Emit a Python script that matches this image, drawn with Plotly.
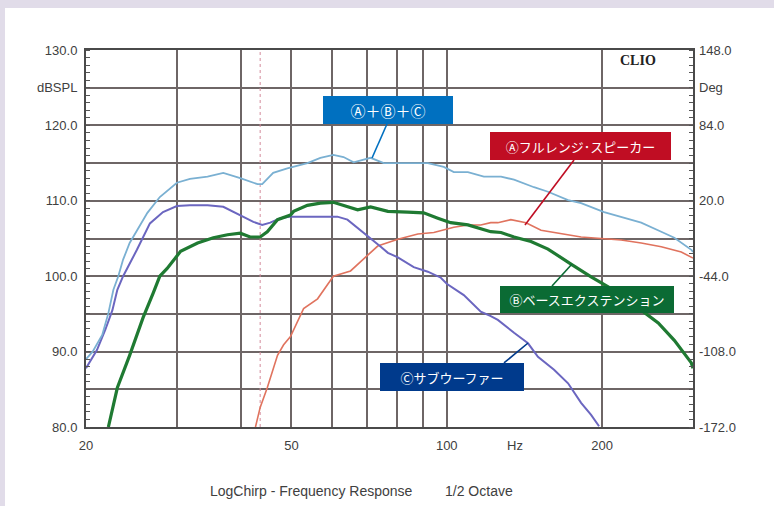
import numpy as np
import plotly.graph_objects as go

# %% data (frequency in Hz, level in dBSPL)
freq_abc = [20, 20.6, 21.5, 22.1, 22.6, 23.1, 23.6, 24.3, 26.3, 27.8, 30.0, 31.8, 34.4, 36.9, 39.8,
            43.0, 43.9, 46.1, 49.1, 53.7, 56.9, 60.3, 63.1, 66.0, 71.2, 75.5, 84.0, 91.9, 98.7,
            103.2, 109.9, 118, 127.4, 135, 147.6, 157.1, 171.8, 182.1, 201.8, 217.7, 238.1, 260.4,
            276, 297.8, 300]
db_abc = [89.0, 90.0, 92.2, 95.1, 98.2, 100.0, 102.2, 104.4, 108.4, 110.5, 112.4, 112.9, 113.2, 113.7,
          113.0, 112.2, 112.2, 113.7, 114.3, 115.0, 115.7, 116.1, 115.8, 115.1, 115.7, 115.0, 115.0,
          115.0, 114.5, 113.8, 113.8, 113.2, 113.2, 112.8, 111.8, 111.2, 110.1, 109.7, 108.5, 107.9,
          107.1, 105.9, 105.1, 103.5, 103.2]

freq_a = [42.6, 43.5, 44.9, 47.0, 48.3, 49.8, 52.8, 56.2, 60.3, 65.1, 70.3, 73.5, 80.4, 87.9, 94.4,
          103.2, 109.9, 116.4, 121.7, 125.6, 133.1, 142.4, 152.3, 166.5, 182.1, 199.1, 217.7, 238.1,
          260.4, 284.7, 297.8, 300]
db_a = [80.0, 82.6, 85.2, 89.5, 90.9, 92.0, 95.7, 97.0, 100.0, 100.7, 102.8, 104.0, 104.9, 105.6, 105.8,
        106.5, 106.8, 106.8, 107.1, 107.1, 107.5, 107.1, 106.1, 105.7, 105.2, 105.0, 104.8, 104.4,
        103.9, 103.2, 102.6, 102.4]

freq_b = [22.1, 23.0, 24.3, 25.8, 27.0, 27.8, 28.7, 30.5, 32.9, 35.3, 37.6, 39.8, 41.6, 43.5, 44.9, 47.0,
          49.8, 50.5, 53.7, 56.9, 60.3, 64.2, 67.2, 71.2, 76.9, 84.0, 90.2, 96.1, 101.8, 109.9,
          116.4, 121.7, 127.4, 135, 145.6, 157.1, 174.1, 190.4, 205.5, 220.7, 238.1, 256.9, 276,
          297.8, 300]
db_b = [80.0, 85.2, 89.5, 94.5, 97.8, 100.0, 101.0, 103.3, 104.4, 105.1, 105.5, 105.7, 105.2, 105.2, 105.9,
        107.5, 108.1, 108.6, 109.4, 109.7, 109.8, 109.2, 108.8, 109.2, 108.6, 108.5, 108.4, 107.7,
        107.1, 106.8, 106.3, 105.9, 105.8, 105.2, 104.6, 103.6, 101.6, 99.9, 98.6, 97.2, 95.5,
        93.8, 91.5, 88.5, 87.8]

freq_c = [20, 21.0, 21.8, 22.5, 23.0, 23.6, 25.1, 26.6, 28.2, 30.0, 31.8, 34.4, 36.9, 39.8, 42.2, 43.9,
          45.5, 47.6, 49.8, 52.1, 55.2, 61.4, 64.2, 68.1, 71.2, 74.5, 76.9, 80.4, 86.3, 91.9, 97.4,
          100, 107.9, 116.4, 121.7, 125.6, 135, 143.7, 150.2, 161.4, 171.8, 182.1, 190.4, 197.3]
db_c = [87.8, 90.2, 92.9, 95.5, 98.2, 100.0, 103.5, 107.0, 108.5, 109.3, 109.4, 109.4, 109.2, 108.1,
        107.2, 106.8, 107.1, 107.7, 107.9, 107.9, 107.9, 107.9, 107.5, 106.1, 105.1, 103.9, 103.1,
        102.5, 101.2, 100.6, 99.8, 99.0, 97.5, 95.3, 94.7, 94.2, 92.5, 91.1, 89.3, 87.6, 85.8, 83.2,
        81.6, 80.1]

cursor_freq = 43.5

x_ticks = [20, 30, 40, 50, 60, 70, 80, 90, 100, 200]
x_text = ["20", "", "", "50", "", "", "", "", "100", "200"]
y_ticks = [80, 85, 90, 95, 100, 105, 110, 115, 120, 125, 130]
y_text = ["80.0", "", "90.0", "", "100.0", "", "110.0", "", "120.0", "dBSPL", "130.0"]
deg_ticks = [-172, -108, -44, 20, 84, 116, 148]
deg_text = ["-172.0", "-108.0", "-44.0", "20.0", "84.0", "Deg", "148.0"]

# %% figure
grid = "#6e6666"
axis_font = dict(family="Liberation Sans, Arial", size=13, color="#404040")
foot_font = dict(family="Liberation Sans, Arial", size=14, color="#404040")
jp = "Noto Sans CJK JP"

fig = go.Figure()
fig.add_trace(go.Scatter(x=[cursor_freq, cursor_freq], y=[80, 130], mode="lines",
                         line=dict(color="#d48a9c", width=1, dash="dot"), hoverinfo="skip"))
fig.add_trace(go.Scatter(x=freq_a, y=db_a, mode="lines", name="A",
                         line=dict(color="#e0735e", width=1.6)))
fig.add_trace(go.Scatter(x=freq_c, y=db_c, mode="lines", name="C",
                         line=dict(color="#6b66c0", width=2)))
fig.add_trace(go.Scatter(x=freq_b, y=db_b, mode="lines", name="B",
                         line=dict(color="#1f7a32", width=3.2)))
fig.add_trace(go.Scatter(x=freq_abc, y=db_abc, mode="lines", name="A+B+C",
                         line=dict(color="#7ab0d2", width=1.8)))
# empty trace so the phase (Deg) axis gets drawn
fig.add_trace(go.Scatter(x=[None], y=[None], yaxis="y2", mode="lines", hoverinfo="skip"))

minor_tick = dict(ticks="inside", ticklen=4, tickcolor="#555555", tickwidth=1,
                  tickmode="linear", showgrid=False)

fig.update_layout(
    width=774, height=506,
    margin=dict(l=86, r=81, t=50, b=79),
    paper_bgcolor="#e1dce9", plot_bgcolor="white",
    showlegend=False,
    xaxis=dict(type="log", range=[np.log10(20), np.log10(300)], tickmode="array",
               tickvals=x_ticks, ticktext=x_text, showgrid=True, gridcolor=grid, gridwidth=1.6,
               showline=True, mirror=True, linecolor="#4a4a4a", linewidth=2, ticks="",
               ticklabelstandoff=5, tickfont=axis_font, zeroline=False),
    yaxis=dict(range=[80, 130], tickmode="array", tickvals=y_ticks, ticktext=y_text,
               showgrid=True, gridcolor=grid, gridwidth=1.6, showline=True, mirror=True,
               linecolor="#4a4a4a", linewidth=2, ticks="", ticklabelstandoff=4,
               tickfont=axis_font, zeroline=False,
               minor=dict(minor_tick, tick0=80, dtick=1)),
    yaxis2=dict(overlaying="y", side="right", range=[-172, 148], tickmode="array",
                tickvals=deg_ticks, ticktext=deg_text, showgrid=False, zeroline=False,
                showline=False, ticks="", ticklabelstandoff=5, tickfont=axis_font,
                minor=dict(minor_tick, tick0=-172, dtick=6.4)),
)

# white panel on lavender page
fig.add_shape(type="rect", xref="paper", yref="paper", x0=-81/607, x1=1.2, y0=-0.3, y1=419/377,
              fillcolor="white", line_width=0, layer="below")

# labels
fig.add_annotation(text="<b>CLIO</b>", xref="paper", yref="paper", x=0.942, y=0.971,
                   yanchor="middle", showarrow=False,
                   font=dict(family="Liberation Serif", size=14, color="#222222"))
fig.add_annotation(text="Hz", xref="paper", yref="paper", x=0.7232, y=-0.048, yanchor="middle",
                   showarrow=False, font=axis_font)
fig.add_annotation(text="LogChirp - Frequency Response", xref="paper", yref="paper", x=0.371,
                   y=-0.17, yanchor="middle", showarrow=False, font=foot_font)
fig.add_annotation(text="1/2 Octave", xref="paper", yref="paper", x=0.647, y=-0.17,
                   yanchor="middle", showarrow=False, font=foot_font)

# callout boxes: (text, colour, left, top, width, height, font size, leader line)
callouts = [
    ("Ⓐ＋Ⓑ＋Ⓒ", "#0070c0", 0.3904, 0.8780, 130, 28, 15, (0.4959, 0.8037, 0.4712, 0.7135)),
    ("Ⓐフルレンジ･スピーカー", "#c00d23", 0.6656, 0.7825, 181, 28, 13, (0.8040, 0.7082, 0.7232, 0.5358)),
    ("Ⓑベースエクステンション", "#0b6b34", 0.6820, 0.3740, 174, 27, 13, (0.7677, 0.3740, 0.8007, 0.4324)),
    ("Ⓒサブウーファー", "#003a8c", 0.4843, 0.1698, 144, 28, 13, (0.6886, 0.1698, 0.7282, 0.2228)),
]
for txt, col, left, top, w, h, fs, ln in callouts:
    fig.add_shape(type="line", xref="paper", yref="paper", x0=ln[0], y0=ln[1], x1=ln[2], y1=ln[3],
                  line=dict(color=col, width=1.6))
    fig.add_annotation(text=txt, xref="paper", yref="paper", x=left, y=top, xanchor="left",
                       yanchor="top", width=w, height=h, bgcolor=col, borderpad=0, borderwidth=0,
                       showarrow=False, align="center", valign="middle",
                       font=dict(family=jp, size=fs, color="white"))

# page has a default 8px body margin, drop it so the figure sits at the window origin
fig.write_html("out.html", config={"displayModeBar": False},
               post_script="document.body.style.margin='0';document.body.style.overflow='hidden';")
